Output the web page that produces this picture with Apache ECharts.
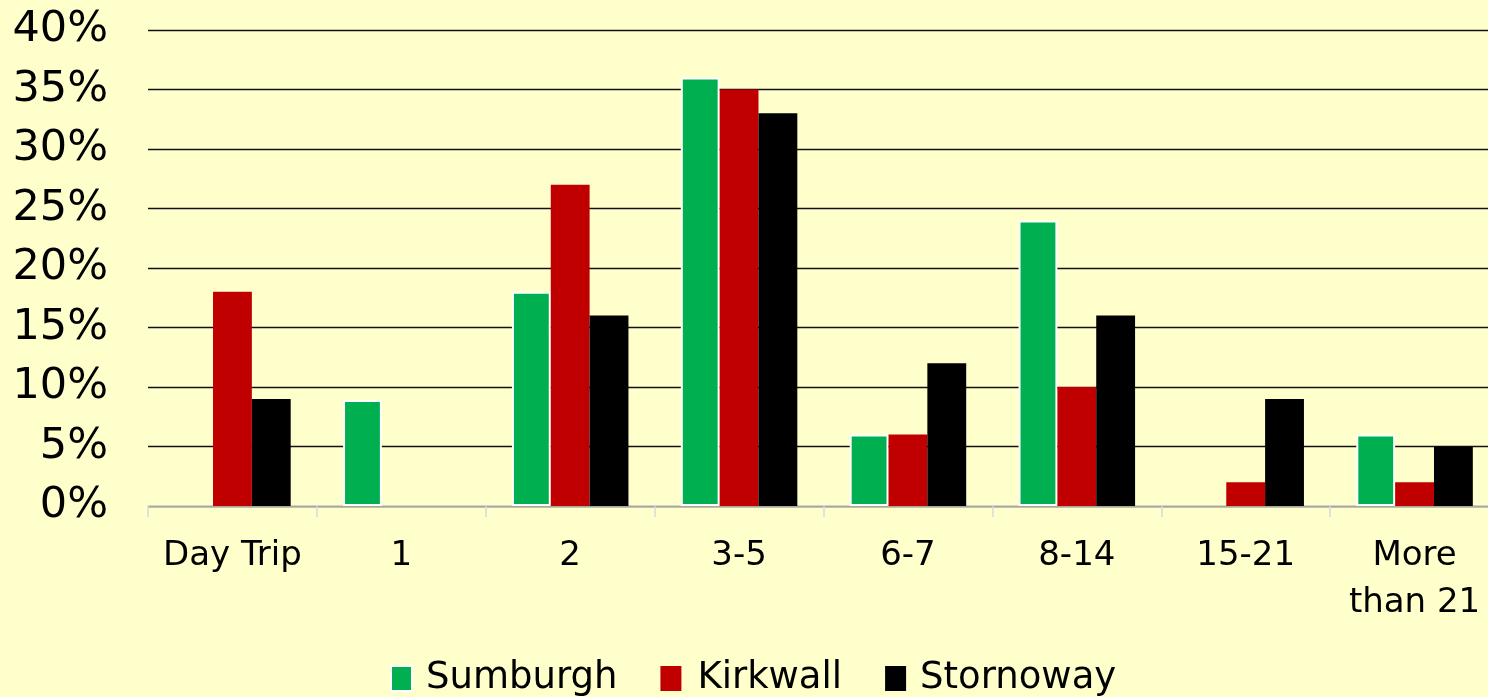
<!DOCTYPE html>
<html><head><meta charset="utf-8">
<script src="https://cdn.jsdelivr.net/npm/echarts@6/dist/echarts.min.js"></script>
<style>html,body{margin:0;padding:0;background:#ffffcc;}#c{width:1488px;height:697px;}</style>
</head><body><div id="c"></div>
<script>
const categories = ['Day Trip', '1', '2', '3-5', '6-7', '8-14', '15-21', 'More\nthan 21'];
const sumburgh = [0, 8.9, 18, 36, 6, 24, 0, 6];
const kirkwall = [18, 0, 27, 35, 6, 10, 2, 2];
const stornoway = [9, 0, 16, 33, 12, 16, 9, 5];
const yTicks = [0, 5, 10, 15, 20, 25, 30, 35, 40];

const font = 'DejaVu Sans';
const noZeroBorder = arr => arr.map(v => v === 0 ? {value: 0, itemStyle: {borderWidth: 0}} : v);
const chart = echarts.init(document.getElementById('c'));
chart.setOption({
  backgroundColor: '#ffffcc',
  animation: false,
  textStyle: {fontFamily: font},
  grid: {left: 148, width: 1351, top: 30, bottom: 191, containLabel: false, outerBoundsMode: 'none'},
  legend: {
    bottom: -5, left: 385,
    icon: 'rect',
    itemWidth: 21, itemHeight: 25, itemGap: 43,
    textStyle: {fontSize: 37, color: '#000', fontFamily: font, padding: [0, 0, 0, 9]},
    data: [
      {name: 'Sumburgh', itemStyle: {color: '#00b050', borderColor: '#fff', borderWidth: 2}},
      {name: 'Kirkwall', itemStyle: {color: '#c00000'}, textStyle: {padding: [0, 49, 0, 11]}},
      {name: 'Stornoway', itemStyle: {color: '#000'}}
    ]
  },
  xAxis: {
    type: 'category', data: categories,
    axisLine: {lineStyle: {color: '#d9d9d9', width: 1.5}},
    axisTick: {show: true, length: 11, lineStyle: {color: '#d9d9d9', width: 1.5}},
    axisLabel: {fontSize: 34, color: '#000', margin: 27, lineHeight: 47, interval: 0, fontFamily: font}
  },
  yAxis: {
    type: 'value', min: 0, max: 40, interval: 5,
    axisLine: {show: false}, axisTick: {show: false},
    splitLine: {lineStyle: {color: '#111', width: 1.3}},
    axisLabel: {fontSize: 43, color: '#000', margin: 40, fontFamily: font,
      formatter: v => yTicks.includes(v) ? v + '%' : ''}
  },
  series: [
    {name: 'Sumburgh', type: 'bar', data: noZeroBorder(sumburgh), barGap: '0%', barCategoryGap: '31%',
      itemStyle: {color: '#00b050', borderColor: '#fff', borderWidth: 2}},
    {name: 'Kirkwall', type: 'bar', data: kirkwall, itemStyle: {color: '#c00000'}},
    {name: 'Stornoway', type: 'bar', data: stornoway, itemStyle: {color: '#000'}}
  ]
});
</script></body></html>
